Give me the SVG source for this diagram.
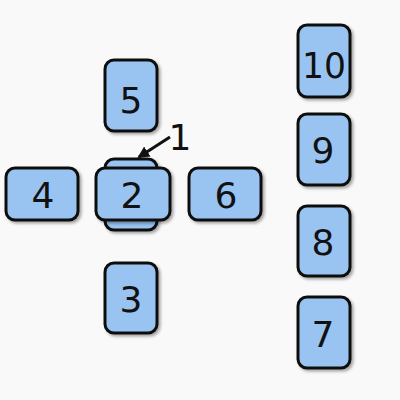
<svg xmlns="http://www.w3.org/2000/svg" width="400" height="400" viewBox="0 0 400 400">
<defs>
<filter id="sh" x="-20%" y="-20%" width="150%" height="150%">
<feDropShadow dx="2" dy="2" stdDeviation="1.5" flood-color="#000" flood-opacity="0.35"/>
</filter>
<marker id="ah" markerWidth="12" markerHeight="12" refX="10" refY="6" orient="auto" markerUnits="userSpaceOnUse">
<path d="M0,0 L12,6 L0,12 z" fill="#111"/>
</marker>
</defs>
<style>
.card{fill:#99c4f2;stroke:#111;stroke-width:3;filter:url(#sh)}
.t{font-family:"DejaVu Sans","Liberation Sans",sans-serif;font-size:36px;fill:#111;text-anchor:middle;dominant-baseline:central}
</style>
<rect width="400" height="400" fill="#f9f9f9"/>
<g id="n1"><rect class="card" x="105" y="159" width="52" height="71" rx="9"/></g>
<g id="n2"><rect class="card" x="96" y="168" width="74" height="52" rx="9"/><text class="t" x="132" y="195">2</text></g>
<g id="n3"><rect class="card" x="105" y="263" width="52" height="70" rx="9"/><text class="t" x="131" y="299">3</text></g>
<g id="n4"><rect class="card" x="6" y="168" width="72" height="52" rx="9"/><text class="t" x="43" y="195">4</text></g>
<g id="n5"><rect class="card" x="105" y="60" width="52" height="71" rx="9"/><text class="t" x="131" y="100">5</text></g>
<g id="n6"><rect class="card" x="189" y="168" width="72" height="52" rx="9"/><text class="t" x="226" y="195">6</text></g>
<g id="n7"><rect class="card" x="298" y="297" width="52" height="71" rx="9"/><text class="t" x="323" y="334">7</text></g>
<g id="n8"><rect class="card" x="298" y="206" width="52" height="70" rx="9"/><text class="t" x="323" y="242">8</text></g>
<g id="n9"><rect class="card" x="298" y="114" width="52" height="71" rx="9"/><text class="t" x="323" y="150">9</text></g>
<g id="n10"><rect class="card" x="298" y="25" width="52" height="72" rx="9"/><text class="t" x="324" y="65" textLength="44" lengthAdjust="spacingAndGlyphs">10</text></g>
<g id="connectors">
<line x1="170" y1="137" x2="139" y2="157" stroke="#111" stroke-width="3" marker-end="url(#ah)"/>
<text class="t" x="180" y="137">1</text>
</g>
</svg>
